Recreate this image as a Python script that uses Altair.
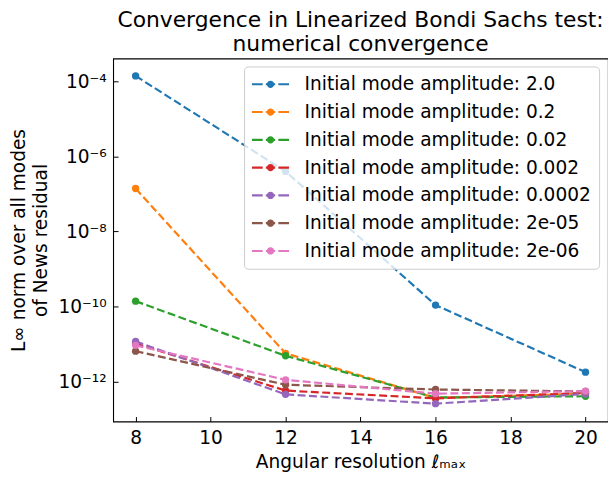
import altair as alt
import pandas as pd

# ---- data ----
l_max = [8, 12, 16, 20]
amplitudes = ["2.0", "0.2", "0.02", "0.002", "0.0002", "2e-05", "2e-06"]
res_2 = [1.4e-4, 4.0e-7, 1.1e-10, 1.8e-12]
res_0_2 = [1.4e-7, 5.7e-12, 3.7e-13, 4.8e-13]
res_0_02 = [1.4e-10, 4.9e-12, 3.8e-13, 4.1e-13]
res_0_002 = [1.05e-11, 5.8e-13, 3.6e-13, 5.0e-13]
res_0_0002 = [1.18e-11, 4.6e-13, 2.6e-13, 4.7e-13]
res_2e_05 = [6.5e-12, 8.3e-13, 6.2e-13, 5.5e-13]
res_2e_06 = [9.3e-12, 1.12e-12, 4.8e-13, 5.6e-13]
colors = ["#1f77b4", "#ff7f0e", "#2ca02c", "#d62728", "#9467bd", "#8c564b", "#e377c2"]

x_ticks = [8, 10, 12, 14, 16, 18, 20]
y_exps = [-12, -10, -8, -6, -4]
y_tick_labels = ["10⁻¹²", "10⁻¹⁰", "10⁻⁸", "10⁻⁶", "10⁻⁴"]

series = [res_2, res_0_2, res_0_02, res_0_002, res_0_0002, res_2e_05, res_2e_06]
rows = []
for amp, vals in zip(amplitudes, series):
    name = f"Initial mode amplitude: {amp}"
    for x, v in zip(l_max, vals):
        rows.append({"lmax": x, "res": v, "series": name})
df = pd.DataFrame(rows)
names = [f"Initial mode amplitude: {a}" for a in amplitudes]

W, H = 499, 366
FONT = "DejaVu Sans"
y_vals = [10.0 ** e for e in y_exps]
label_arr = "[" + ",".join(f"'{s}'" for s in y_tick_labels) + "]"
y_label_expr = f"{label_arr}[(round(log(datum.value)/LN10)+12)/2]"

xscale = alt.Scale(domain=[7.4, 20.6], nice=False, zero=False)
yscale = alt.Scale(type="log", domain=[10 ** -13.06, 10 ** -3.39], nice=False)
cscale = alt.Scale(domain=names, range=colors)

# legend glyph: dashed line with a dot (unit = 10 px at symbolSize 400)
legend_path = ("M-1.0,-0.105L0.08,-0.105L0.08,0.105L-1.0,0.105Z "
               "M0.40,-0.105L1.34,-0.105L1.34,0.105L0.40,0.105Z "
               "M1.66,-0.105L2.74,-0.105L2.74,0.105L1.66,0.105Z "
               "M1.24,0A0.37,0.37,0,1,1,0.50,0A0.37,0.37,0,1,1,1.24,0Z")

legend = alt.Legend(title=None, orient="none", legendX=132, legendY=8,
                    symbolType=legend_path, symbolSize=400,
                    symbolStrokeWidth=0, symbolOpacity=1, symbolDash=[1, 0],
                    labelFontSize=18.7, labelFont=FONT,
                    labelColor="black", labelOffset=33,
                    rowPadding=8, padding=8,
                    fillColor="rgba(255,255,255,0.8)",
                    strokeColor="#cccccc", cornerRadius=4,
                    labelLimit=400)

base = alt.Chart(df)

lines = base.mark_line(strokeDash=[8, 3.5], strokeWidth=2.2).encode(
    x=alt.X("lmax:Q", scale=xscale,
            axis=alt.Axis(values=x_ticks, ticks=False, domain=False, grid=False,
                          labelPadding=7, title="Angular resolution ℓₘₐₓ",
                          titlePadding=6, labelFontSize=18.7, titleFontSize=18.7,
                          labelFont=FONT, titleFont=FONT, titleFontWeight="normal",
                          labelColor="black", titleColor="black")),
    y=alt.Y("res:Q", scale=yscale,
            axis=alt.Axis(values=y_vals, labelExpr=y_label_expr, ticks=False,
                          domain=False, grid=False, labelPadding=7,
                          title=["L∞ norm over all modes", "of News residual"],
                          titlePadding=8, labelFontSize=18.7, titleFontSize=18.7,
                          titleLineHeight=22,
                          labelFont=FONT, titleFont=FONT, titleFontWeight="normal",
                          labelColor="black", titleColor="black")),
    color=alt.Color("series:N", scale=cscale, legend=legend),
    detail="series:N",
)

points = base.mark_point(filled=True, size=55, opacity=1).encode(
    x=alt.X("lmax:Q", scale=xscale,
            axis=alt.Axis(values=x_ticks, orient="top", offset=-H, labels=False,
                          domain=False, grid=False, ticks=True, tickSize=5,
                          tickWidth=1, tickColor="black", title=None)),
    y=alt.Y("res:Q", scale=yscale,
            axis=alt.Axis(values=y_vals, orient="right", offset=-W, labels=False,
                          domain=False, grid=False, ticks=True, tickSize=5,
                          tickWidth=1, tickColor="black", title=None)),
    color=alt.Color("series:N", scale=cscale, legend=legend),
)

chart = alt.layer(lines, points).resolve_axis(x="independent", y="independent").properties(
    width=W, height=H,
    background="white",
    autosize=alt.AutoSizeParams(type="none"),
    padding={"left": 106, "top": 49, "right": 0, "bottom": 51},
    title=alt.TitleParams(["Convergence in Linearized Bondi Sachs test:", "numerical convergence"],
                          fontSize=22, font=FONT, fontWeight="normal", color="black",
                          anchor="middle", lineHeight=24, offset=3),
).configure_view(stroke="black", strokeWidth=1.1)

chart.save("out.html", embed_options={"renderer": "svg", "actions": False})
